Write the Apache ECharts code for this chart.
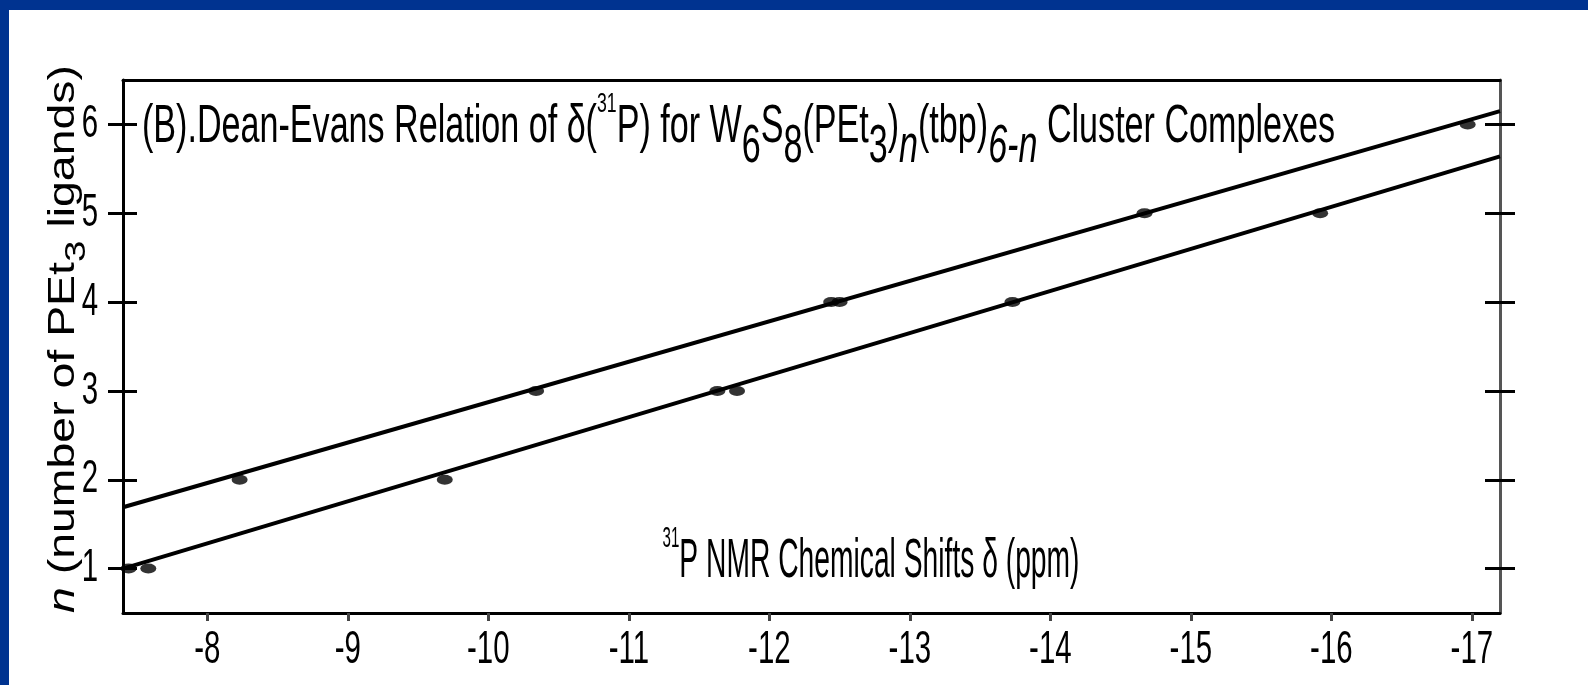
<!DOCTYPE html>
<html><head><meta charset="utf-8">
<script src="https://cdn.jsdelivr.net/npm/echarts@6/dist/echarts.min.js"></script>
<style>
html,body{margin:0;padding:0;background:#fff;overflow:hidden;}
#chart{position:absolute;left:0;top:0;width:1588px;height:685px;}
.band{position:absolute;background:#003390;z-index:10;}
</style></head><body>
<div id="chart"></div>
<div class="band" style="left:0;top:0;width:1588px;height:10px"></div>
<div class="band" style="left:0;top:0;width:9px;height:685px"></div>
<script>
// ---- data ----
const xTicks = [-8, -9, -10, -11, -12, -13, -14, -15, -16, -17];
const yTicks = [1, 2, 3, 4, 5, 6];
const upperShift = [-8.23, -10.34, -12.44, -12.50, -14.67, -16.97];
const upperN = [2, 3, 4, 4, 5, 6];
const lowerShift = [-7.44, -7.58, -9.69, -11.63, -11.77, -13.73, -15.92];
const lowerN = [1, 1, 2, 3, 3, 4, 5];
const fitShift = [-7.4, -17.2];
const upperFitN = [1.69, 6.15];
const lowerFitN = [1.0, 5.64];

const zip = (a, b) => a.map((v, i) => [v, b[i]]);
const SANS = "'Liberation Sans',Arial,sans-serif";

function richWidth(parts, rich) {
  const c = document.createElement('canvas').getContext('2d');
  let w = 0;
  for (const [k, t] of parts) {
    const s = rich[k];
    c.font = (s.fontStyle || 'normal') + ' normal ' + s.fontSize + 'px ' + s.fontFamily;
    w += c.measureText(t).width;
  }
  return w;
}
const toRich = parts => parts.map(([k, t]) => '{' + k + '|' + t + '}').join('');

function makeRich(fs, supFs, subPad) {
  return {
    m:   {fontSize: fs, fontFamily: SANS, color: '#111', lineHeight: fs + 8, padding: [10, 0, 0, 0], verticalAlign: 'top'},
    sup: {fontSize: supFs, fontFamily: SANS, color: '#111', lineHeight: supFs + 4, verticalAlign: 'top'},
    sub: {fontSize: fs, fontFamily: SANS, color: '#111', lineHeight: fs + 8, padding: [subPad, 0, 0, 0], verticalAlign: 'top'},
    subi:{fontSize: fs, fontFamily: SANS, fontStyle: 'italic', color: '#111', lineHeight: fs + 8, padding: [subPad, 0, 0, 0], verticalAlign: 'top'}
  };
}
const titleRich = makeRich(54, 28, 30);
const xNameRich = makeRich(56, 30, 30);
const titleParts = [['m', '(B).Dean-Evans Relation of δ('], ['sup', '31'], ['m', 'P) for W'], ['sub', '6'], ['m', 'S'], ['sub', '8'],
  ['m', '(PEt'], ['sub', '3'], ['m', ')'], ['subi', 'n'], ['m', '(tbp)'], ['subi', '6-n'], ['m', ' Cluster Complexes']];
const xNameParts = [['sup', '31'], ['m', 'P NMR Chemical Shifts δ (ppm)']];

const yRich = {
  m:  {fontSize: 36, fontFamily: SANS, color: '#111', lineHeight: 42, verticalAlign: 'top'},
  mi: {fontSize: 36, fontFamily: SANS, fontStyle: 'italic', color: '#111', lineHeight: 42, verticalAlign: 'top'},
  s:  {fontSize: 30, fontFamily: SANS, color: '#111', lineHeight: 36, padding: [16, 0, 0, 0], verticalAlign: 'top'}
};
const yNameParts = [['mi', 'n'], ['m', ' (number of PEt'], ['s', '3'], ['m', ' ligands)']];

const titleScale = 1193 / richWidth(titleParts, titleRich);
const xNameScale = 417 / richWidth(xNameParts, xNameRich);
const yNameScale = 548 / richWidth(yNameParts, yRich);

const chart = echarts.init(document.getElementById('chart'), null, {renderer: 'canvas'});

const X_MIN = -17.2, X_MAX = -7.4, Y_MIN = 0.5, Y_MAX = 6.5;
const black3 = {color: '#000', width: 3};
const yBase = {type: 'value', min: Y_MIN, max: Y_MAX, splitLine: {show: false}, axisLabel: {show: false}};
const xBase = {type: 'value', min: X_MIN, max: X_MAX, inverse: true, splitLine: {show: false}, axisLabel: {show: false}};

chart.setOption({
  animation: false,
  backgroundColor: 'transparent',
  grid: {left: 123, right: 88, top: 80, bottom: 72, containLabel: false, outerBoundsMode: 'none'},
  xAxis: [
    Object.assign({}, xBase, {
      position: 'bottom',
      axisLine: {show: true, onZero: false, lineStyle: black3},
      axisTick: {show: true, inside: false, length: 8, lineStyle: {color: '#444', width: 3}, customValues: xTicks}
    }),
    Object.assign({}, xBase, {
      position: 'top',
      axisLine: {show: true, onZero: false, lineStyle: black3},
      axisTick: {show: false}
    })
  ],
  yAxis: [
    Object.assign({}, yBase, {
      position: 'left',
      axisLine: {show: true, onZero: false, lineStyle: black3},
      axisTick: {show: true, inside: false, length: 15, lineStyle: black3, customValues: yTicks}
    }),
    Object.assign({}, yBase, {
      position: 'left',
      axisLine: {show: false},
      axisTick: {show: true, inside: true, length: 14, lineStyle: black3, customValues: yTicks}
    }),
    Object.assign({}, yBase, {
      position: 'right',
      axisLine: {show: true, onZero: false, lineStyle: {color: '#555', width: 3}},
      axisTick: {show: true, inside: false, length: 15, lineStyle: black3, customValues: yTicks}
    }),
    Object.assign({}, yBase, {
      position: 'right',
      axisLine: {show: false},
      axisTick: {show: true, inside: true, length: 15, lineStyle: black3, customValues: yTicks}
    })
  ],
  series: [
    {type: 'line', data: zip(fitShift, upperFitN), showSymbol: false, symbol: 'none', lineStyle: {color: '#000', width: 4}, z: 3},
    {type: 'line', data: zip(fitShift, lowerFitN), showSymbol: false, symbol: 'none', lineStyle: {color: '#000', width: 4}, z: 3},
    {type: 'scatter', data: zip(upperShift, upperN), symbol: 'circle', symbolSize: [16, 10], itemStyle: {color: '#000'}, z: 4},
    {type: 'scatter', data: zip(lowerShift, lowerN), symbol: 'circle', symbolSize: [16, 10], itemStyle: {color: '#000'}, z: 4}
  ]
});

// tick labels placed through the axes' own scales (condensed type)
const LABEL_FS = 46, LABEL_SX = 0.64;
const axisBottomY = chart.convertToPixel({yAxisIndex: 0}, Y_MIN);
const axisLeftX = chart.convertToPixel({xAxisIndex: 0}, X_MAX);
const tickLabels = [];
xTicks.forEach(v => tickLabels.push({
  type: 'text', x: chart.convertToPixel({xAxisIndex: 0}, v), y: axisBottomY + 37, scaleX: LABEL_SX, z: 10,
  style: {text: String(v), fontSize: LABEL_FS, fontFamily: SANS, fill: '#000', align: 'center', verticalAlign: 'middle'}
}));
yTicks.forEach(v => tickLabels.push({
  type: 'text', x: axisLeftX - 25, y: chart.convertToPixel({yAxisIndex: 0}, v), scaleX: LABEL_SX, z: 10,
  style: {text: String(v), fontSize: LABEL_FS, fontFamily: SANS, fill: '#000', align: 'right', verticalAlign: 'middle'}
}));

chart.setOption({
  graphic: tickLabels.concat([
    {type: 'text', x: 142, y: 90, scaleX: titleScale, z: 10,
     style: {text: toRich(titleParts), rich: titleRich, align: 'left', verticalAlign: 'top'}},
    {type: 'text', x: 871, y: 524, scaleX: xNameScale, z: 10,
     style: {text: toRich(xNameParts), rich: xNameRich, align: 'center', verticalAlign: 'top'}},
    {type: 'text', x: 67, y: 339, rotation: Math.PI / 2, scaleX: yNameScale, z: 10,
     style: {text: toRich(yNameParts), rich: yRich, align: 'center', verticalAlign: 'middle'}}
  ])
});
</script>
</body></html>
